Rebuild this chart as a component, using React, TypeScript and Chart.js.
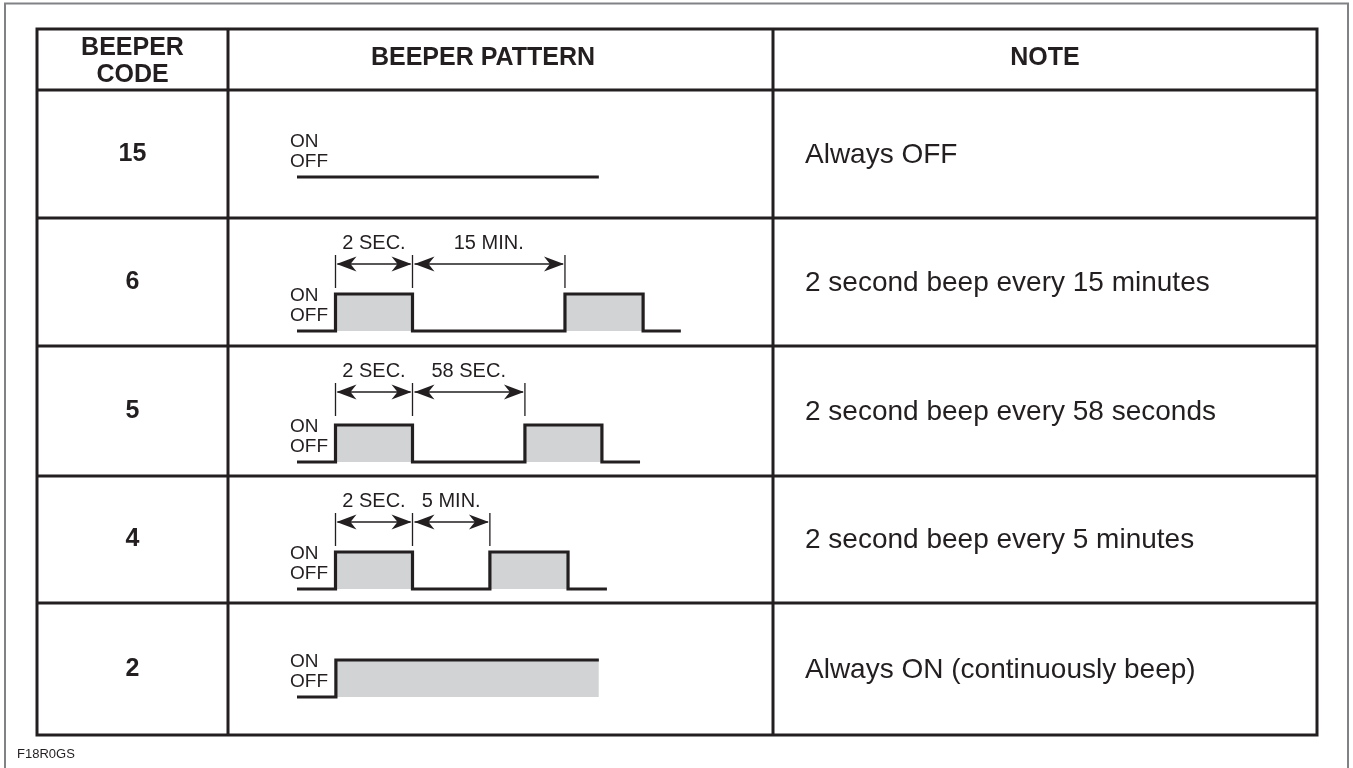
import React, { useEffect, useRef } from "react";
import { Chart, registerables } from "chart.js";

Chart.register(...registerables);

// ---------------- DATA ----------------
const headerCode = ["BEEPER", "CODE"];
const headerPattern = "BEEPER PATTERN";
const headerNote = "NOTE";
const beeperCodes = ["15", "6", "5", "4", "2"];
const notes = [
  "Always OFF",
  "2 second beep every 15 minutes",
  "2 second beep every 58 seconds",
  "2 second beep every 5 minutes",
  "Always ON (continuously beep)",
];
const stateLabels = ["ON", "OFF"];
const figureId = "F18R0GS";

// Waveforms: time in drawing units (a 2 s beep spans 2 units), level 1 = ON, 0 = OFF
const code15Times = [0, 7.84];
const code15Levels = [0, 0];
const code6Times = [0, 1, 3, 6.96, 8.99, 9.97];
const code6Levels = [0, 1, 0, 1, 0, 0];
const code5Times = [0, 1, 3, 5.92, 7.92, 8.91];
const code5Levels = [0, 1, 0, 1, 0, 0];
const code4Times = [0, 1, 3, 5.01, 7.04, 8.05];
const code4Levels = [0, 1, 0, 1, 0, 0];
const code2Times = [0, 1.01, 7.84];
const code2Levels = [0, 1, 1];

// Dimension labels (beep length, pause length) – null when the row has none
const code6Spans = ["2 SEC.", "15 MIN."];
const code5Spans = ["2 SEC.", "58 SEC."];
const code4Spans = ["2 SEC.", "5 MIN."];

const rowTimes = [code15Times, code6Times, code5Times, code4Times, code2Times];
const rowLevels = [code15Levels, code6Levels, code5Levels, code4Levels, code2Levels];
const rowSpans: (string[] | null)[] = [null, code6Spans, code5Spans, code4Spans, null];

// ---------------- LAYOUT / STYLE ----------------
const W = 1353;
const H = 768;
const INK = "#231f20";
const FILL = "#d1d3d4";
const FONT = "'Liberation Sans', Arial, Helvetica, sans-serif";
const X0 = 297; // pixel where the waveforms start
const UNIT = 38.5; // pixels per time unit
const PULSE_H = 37; // pixels between OFF and ON level
const TABLE_L = 37;
const TABLE_R = 1317;
const COL1 = 228;
const COL2 = 773;
const ROW_LINES = [29, 90, 218, 346, 476, 603, 735];
const BASELINES = [177, 331, 462, 589, 697];

function arrowHead(ctx: CanvasRenderingContext2D, tipX: number, y: number, dir: number) {
  const L = 20;
  const hw = 7.5;
  const notch = 6;
  ctx.beginPath();
  ctx.moveTo(tipX, y);
  ctx.lineTo(tipX - dir * L, y - hw);
  ctx.lineTo(tipX - dir * (L - notch), y);
  ctx.lineTo(tipX - dir * L, y + hw);
  ctx.closePath();
  ctx.fill();
}

const tablePlugin = {
  id: "beeperTable",
  afterDraw(chart: any) {
    const ctx: CanvasRenderingContext2D = chart.ctx;
    const xs = chart.scales.x;
    ctx.save();

    // outer frame
    ctx.strokeStyle = "#808285";
    ctx.lineWidth = 2;
    ctx.strokeRect(5, 3.5, 1343, 800);

    // table grid
    ctx.strokeStyle = INK;
    ctx.lineWidth = 3;
    const top = ROW_LINES[0];
    const bottom = ROW_LINES[ROW_LINES.length - 1];
    ctx.strokeRect(TABLE_L, top, TABLE_R - TABLE_L, bottom - top);
    ctx.beginPath();
    for (let i = 1; i < ROW_LINES.length - 1; i++) {
      ctx.moveTo(TABLE_L, ROW_LINES[i]);
      ctx.lineTo(TABLE_R, ROW_LINES[i]);
    }
    ctx.moveTo(COL1, top);
    ctx.lineTo(COL1, bottom);
    ctx.moveTo(COL2, top);
    ctx.lineTo(COL2, bottom);
    ctx.stroke();

    ctx.fillStyle = INK;
    ctx.textBaseline = "middle";

    // headers
    ctx.font = `bold 25px ${FONT}`;
    ctx.textAlign = "center";
    const c1 = (TABLE_L + COL1) / 2;
    ctx.fillText(headerCode[0], c1, 48);
    ctx.fillText(headerCode[1], c1, 75);
    ctx.fillText(headerPattern, 483, 58);
    ctx.fillText(headerNote, (COL2 + TABLE_R) / 2, 58);

    for (let r = 0; r < beeperCodes.length; r++) {
      const rTop = ROW_LINES[r + 1];
      const rBot = ROW_LINES[r + 2];
      const mid = (rTop + rBot) / 2;
      // code
      ctx.font = `bold 25px ${FONT}`;
      ctx.textAlign = "center";
      ctx.fillText(beeperCodes[r], c1, mid);
      // note
      ctx.font = `28px ${FONT}`;
      ctx.textAlign = "left";
      ctx.fillText(notes[r], 805, mid + 1);
      // ON / OFF
      ctx.font = `19px ${FONT}`;
      const b = BASELINES[r];
      ctx.fillText(stateLabels[0], 290, b - 35);
      ctx.fillText(stateLabels[1], 290, b - 15);

      // dimension arrows
      const spans = rowSpans[r];
      if (spans) {
        const t = rowTimes[r];
        const xa = xs.getPixelForValue(t[1]);
        const xb = xs.getPixelForValue(t[2]);
        const xc = xs.getPixelForValue(t[3]);
        const ay = rTop + 46;
        ctx.lineWidth = 1.3;
        ctx.beginPath();
        for (const x of [xa, xb, xc]) {
          ctx.moveTo(x, rTop + 37);
          ctx.lineTo(x, rTop + 70);
        }
        ctx.moveTo(xa + 2, ay);
        ctx.lineTo(xb - 2, ay);
        ctx.moveTo(xb + 2, ay);
        ctx.lineTo(xc - 2, ay);
        ctx.stroke();
        arrowHead(ctx, xa + 1, ay, -1);
        arrowHead(ctx, xb - 1, ay, 1);
        arrowHead(ctx, xb + 2, ay, -1);
        arrowHead(ctx, xc - 1, ay, 1);
        ctx.font = `20px ${FONT}`;
        ctx.textAlign = "center";
        ctx.fillText(spans[0], (xa + xb) / 2, rTop + 25);
        ctx.fillText(spans[1], (xb + xc) / 2, rTop + 25);
      }
    }

    // figure id
    ctx.font = `13px ${FONT}`;
    ctx.textAlign = "left";
    ctx.fillText(figureId, 17, 754);

    ctx.restore();
  },
};

export default function App() {
  const ref = useRef<HTMLCanvasElement | null>(null);

  useEffect(() => {
    document.body.style.margin = "0";
    document.body.style.overflow = "hidden";
    const canvas = ref.current;
    if (!canvas) return;

    const scales: any = {
      x: {
        type: "linear",
        display: false,
        min: -X0 / UNIT,
        max: (W - X0) / UNIT,
      },
    };
    BASELINES.forEach((b, i) => {
      scales["y" + i] = {
        type: "linear",
        display: false,
        min: -(H - b) / PULSE_H,
        max: b / PULSE_H,
      };
    });

    const datasets = rowTimes.map((times, i) => {
      const levels = rowLevels[i];
      const hasOn = levels.some((v) => v > 0);
      return {
        label: "Code " + beeperCodes[i],
        data: times.map((t, k) => ({ x: t, y: levels[k] })),
        xAxisID: "x",
        yAxisID: "y" + i,
        stepped: "before" as const,
        borderColor: INK,
        borderWidth: 3.2,
        borderCapStyle: "butt" as const,
        borderJoinStyle: "miter" as const,
        backgroundColor: FILL,
        fill: hasOn ? { value: 0 } : false,
        pointRadius: 0,
        pointHoverRadius: 0,
        tension: 0,
      };
    });

    const chart = new Chart(canvas, {
      type: "line",
      data: { datasets: datasets as any },
      options: {
        animation: false,
        responsive: false,
        devicePixelRatio: 1,
        events: [],
        layout: { padding: 0 },
        scales,
        plugins: {
          legend: { display: false },
          tooltip: { enabled: false },
          title: { display: false },
        },
      },
      plugins: [tablePlugin],
    });

    return () => chart.destroy();
  }, []);

  return (
    <canvas
      ref={ref}
      width={W}
      height={H}
      style={{ display: "block", width: W + "px", height: H + "px", background: "#fff" }}
    />
  );
}
